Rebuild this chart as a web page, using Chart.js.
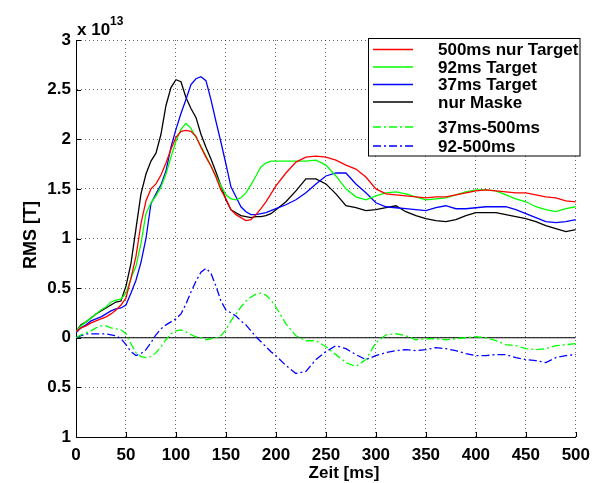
<!DOCTYPE html>
<html>
<head>
<meta charset="utf-8">
<script src="https://cdn.jsdelivr.net/npm/chart.js"></script>
<style>
  html, body { margin: 0; padding: 0; background: #fff; }
</style>
</head>
<body>
<canvas id="rmsChart" width="598" height="483"></canvas>
<script>
// time axis (ms)
const timeMs = [0, 5, 10, 15, 20, 25, 30, 35, 40, 45, 50, 55, 60, 65, 70, 75, 80, 85, 90, 95,
  100, 105, 110, 115, 120, 125, 130, 135, 140, 145, 150, 155, 160, 165, 170, 175, 180, 185, 190, 195,
  200, 210, 220, 230, 240, 250, 260, 270, 280, 290, 300, 310, 320, 330, 340, 350, 360, 370, 380, 390,
  400, 410, 420, 430, 440, 450, 460, 470, 480, 490, 500];

// RMS values in units of 1e13 T
const target500 = [0.06, 0.10, 0.12, 0.15, 0.17, 0.19, 0.21, 0.24, 0.28, 0.33, 0.40, 0.60, 0.82, 1.15, 1.38, 1.50, 1.55, 1.64, 1.76, 1.90,
  2.02, 2.08, 2.09, 2.08, 2.03, 1.92, 1.82, 1.73, 1.62, 1.49, 1.40, 1.29, 1.24, 1.21, 1.18, 1.19, 1.24, 1.30, 1.37, 1.45,
  1.53, 1.66, 1.77, 1.82, 1.83, 1.82, 1.79, 1.74, 1.70, 1.62, 1.50, 1.45, 1.44, 1.43, 1.42, 1.41, 1.42, 1.42, 1.44, 1.46,
  1.48, 1.49, 1.48, 1.47, 1.46, 1.46, 1.44, 1.42, 1.41, 1.38, 1.37];

const target92 = [0.06, 0.12, 0.16, 0.20, 0.24, 0.28, 0.31, 0.36, 0.38, 0.39, 0.45, 0.60, 0.72, 0.95, 1.25, 1.36, 1.43, 1.52, 1.65, 1.82,
  1.98, 2.10, 2.16, 2.11, 2.02, 1.93, 1.83, 1.73, 1.63, 1.53, 1.44, 1.40, 1.39, 1.41, 1.46, 1.54, 1.63, 1.72, 1.76, 1.78,
  1.78, 1.78, 1.78, 1.78, 1.79, 1.74, 1.63, 1.50, 1.42, 1.39, 1.43, 1.46, 1.47, 1.45, 1.42, 1.39, 1.40, 1.41, 1.44, 1.47,
  1.49, 1.49, 1.48, 1.44, 1.40, 1.37, 1.32, 1.29, 1.27, 1.30, 1.32];

const target37 = [0.05, 0.10, 0.13, 0.17, 0.19, 0.21, 0.24, 0.27, 0.29, 0.30, 0.33, 0.45, 0.58, 0.76, 1.00, 1.35, 1.45, 1.54, 1.68, 1.92,
  2.10, 2.26, 2.40, 2.55, 2.61, 2.63, 2.59, 2.40, 2.18, 1.97, 1.75, 1.52, 1.42, 1.32, 1.27, 1.24, 1.24, 1.25, 1.26, 1.28,
  1.30, 1.34, 1.39, 1.46, 1.55, 1.63, 1.66, 1.66, 1.55, 1.46, 1.36, 1.32, 1.31, 1.30, 1.29, 1.28, 1.31, 1.33, 1.30, 1.30,
  1.31, 1.32, 1.32, 1.32, 1.29, 1.25, 1.21, 1.17, 1.16, 1.17, 1.19];

const maskOnly = [0.06, 0.13, 0.16, 0.20, 0.24, 0.27, 0.30, 0.33, 0.36, 0.37, 0.52, 0.75, 1.10, 1.45, 1.65, 1.78, 1.86, 2.05, 2.34, 2.52,
  2.60, 2.58, 2.42, 2.31, 2.22, 2.05, 1.92, 1.80, 1.67, 1.53, 1.39, 1.29, 1.26, 1.23, 1.22, 1.21, 1.22, 1.22, 1.23, 1.25,
  1.29, 1.37, 1.48, 1.60, 1.60, 1.55, 1.45, 1.33, 1.31, 1.28, 1.29, 1.31, 1.33, 1.27, 1.23, 1.20, 1.18, 1.17, 1.19, 1.23,
  1.26, 1.26, 1.26, 1.24, 1.22, 1.20, 1.17, 1.13, 1.10, 1.07, 1.09];

const diff37 = [0.00, 0.03, 0.05, 0.07, 0.10, 0.12, 0.12, 0.10, 0.09, 0.08, 0.04, -0.06, -0.15, -0.19, -0.20, -0.19, -0.15, -0.09, -0.02, 0.04,
  0.07, 0.08, 0.06, 0.03, 0.01, 0.00, -0.02, -0.01, 0.00, 0.02, 0.08, 0.17, 0.24, 0.31, 0.37, 0.41, 0.44, 0.45, 0.43, 0.38,
  0.31, 0.14, 0.02, -0.03, -0.03, -0.09, -0.17, -0.25, -0.29, -0.22, -0.05, 0.03, 0.04, 0.02, -0.02, -0.01, -0.01, -0.02, -0.01, 0.00,
  0.01, 0.00, -0.03, -0.07, -0.08, -0.11, -0.12, -0.11, -0.08, -0.07, -0.06];

const diff92 = [0.00, 0.02, 0.04, 0.04, 0.04, 0.04, 0.04, 0.03, 0.02, -0.01, -0.07, -0.14, -0.18, -0.16, -0.12, -0.05, 0.03, 0.09, 0.13, 0.16,
  0.19, 0.24, 0.34, 0.46, 0.57, 0.66, 0.70, 0.65, 0.52, 0.37, 0.28, 0.25, 0.22, 0.17, 0.13, 0.07, 0.01, -0.04, -0.09, -0.14,
  -0.18, -0.28, -0.36, -0.34, -0.22, -0.14, -0.08, -0.11, -0.17, -0.22, -0.18, -0.15, -0.13, -0.12, -0.13, -0.12, -0.10, -0.11, -0.13, -0.16,
  -0.18, -0.18, -0.17, -0.17, -0.20, -0.22, -0.23, -0.25, -0.20, -0.18, -0.17];

const seriesLabels = ['500ms nur Target', '92ms Target', '37ms Target', 'nur Maske', '37ms-500ms', '92-500ms'];
const seriesColors = ['#ff0000', '#00ff00', '#0000ff', '#000000', '#00ff00', '#0000ff'];
const xTickStep = 50;
const yTickStep = 0.5;

const FONT = "'Liberation Sans', Arial, Helvetica, sans-serif";
const dashDot = [8, 3, 2, 3];

const toPoints = (vals) => timeMs.map((t, i) => ({ x: t, y: vals[i] }));
const allSeries = [target500, target92, target37, maskOnly, diff37, diff92];

const datasets = allSeries.map((vals, i) => ({
  label: seriesLabels[i],
  data: toPoints(vals),
  borderColor: seriesColors[i],
  borderWidth: 1.3,
  borderDash: i >= 4 ? dashDot : [],
  pointRadius: 0,
  tension: 0,
  fill: false
}));

// horizontal zero line
datasets.push({
  label: 'zero',
  data: [{ x: timeMs[0], y: 0 }, { x: timeMs[timeMs.length - 1], y: 0 }],
  borderColor: '#000',
  borderWidth: 1.2,
  pointRadius: 0,
  fill: false
});

// legend, axis titles, exponent label and inward ticks (matlab look)
const decorations = {
  id: 'decorations',
  afterDraw(chart) {
    const ctx = chart.ctx;
    const xs = chart.scales.x, ys = chart.scales.y;
    const area = chart.chartArea;

    ctx.save();
    // inward ticks
    ctx.strokeStyle = '#000';
    ctx.lineWidth = 1;
    ctx.beginPath();
    xs.ticks.forEach(t => {
      const px = Math.round(xs.getPixelForValue(t.value)) + 0.5;
      ctx.moveTo(px, area.bottom);
      ctx.lineTo(px, area.bottom - 5);
    });
    ys.ticks.forEach(t => {
      const py = Math.round(ys.getPixelForValue(t.value)) + 0.5;
      ctx.moveTo(area.left, py);
      ctx.lineTo(area.left + 5, py);
    });
    ctx.stroke();

    // axis titles
    ctx.fillStyle = '#000';
    ctx.font = 'bold 17px ' + FONT;
    ctx.textAlign = 'center';
    ctx.textBaseline = 'alphabetic';
    ctx.fillText('Zeit [ms]', 344, 478);
    ctx.save();
    ctx.translate(35.5, 235);
    ctx.rotate(-Math.PI / 2);
    ctx.font = 'bold 18px ' + FONT;
    ctx.fillText('RMS [T]', 0, 0);
    ctx.restore();

    // exponent
    ctx.textAlign = 'left';
    ctx.font = 'bold 17px ' + FONT;
    ctx.fillText('x 10', 77, 35);
    ctx.font = 'bold 12px ' + FONT;
    ctx.fillText('13', 110, 25);

    // legend box
    const box = { x: 368.5, y: 38.5, w: 211.5, h: 117.5 };
    ctx.fillStyle = '#fff';
    ctx.fillRect(box.x, box.y, box.w, box.h);
    ctx.strokeStyle = '#000';
    ctx.lineWidth = 1;
    ctx.strokeRect(box.x, box.y, box.w, box.h);

    const rows = [49.5, 67, 84.5, 102, 127, 146];
    ctx.font = 'bold 17px ' + FONT;
    ctx.textBaseline = 'middle';
    seriesLabels.forEach((lab, i) => {
      const ds = chart.data.datasets[i];
      ctx.strokeStyle = ds.borderColor;
      ctx.lineWidth = 1.3;
      ctx.setLineDash(ds.borderDash || []);
      ctx.beginPath();
      ctx.moveTo(373, rows[i]);
      ctx.lineTo(413, rows[i]);
      ctx.stroke();
      ctx.setLineDash([]);
      ctx.fillStyle = '#000';
      ctx.fillText(lab, 438, rows[i] + 1);
    });
    ctx.restore();
  }
};

const ctx = document.getElementById('rmsChart').getContext('2d');
const chart = new Chart(ctx, {
  type: 'line',
  data: { datasets: datasets },
  options: {
    responsive: false,
    animation: false,
    devicePixelRatio: 1,
    layout: { padding: { left: 0, right: 16, top: 40, bottom: 0 } },
    plugins: {
      legend: { display: false },
      tooltip: { enabled: false }
    },
    scales: {
      x: {
        type: 'linear',
        min: 0,
        max: 500,
        afterFit: (s) => { s.height = 46; },
        ticks: {
          stepSize: xTickStep,
          color: '#000',
          padding: 8,
          maxRotation: 0,
          font: { family: FONT, size: 17, weight: 'bold' }
        },
        grid: { color: 'rgba(0,0,0,0.6)', lineWidth: 1, drawTicks: false },
        border: { display: true, color: '#000', width: 1, dash: [1, 3] }
      },
      y: {
        min: -1,
        max: 3,
        afterFit: (s) => { s.width = 76; },
        ticks: {
          stepSize: yTickStep,
          color: '#000',
          padding: 5,
          font: { family: FONT, size: 17, weight: 'bold' },
          callback: (v) => String(Math.abs(v))
        },
        grid: { color: 'rgba(0,0,0,0.6)', lineWidth: 1, drawTicks: false },
        border: { display: true, color: '#000', width: 1, dash: [1, 3] }
      }
    }
  },
  plugins: [decorations]
});
</script>
</body>
</html>
